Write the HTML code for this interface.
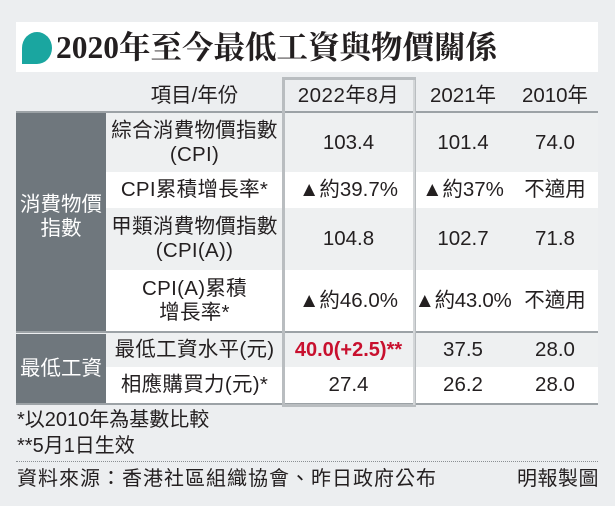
<!DOCTYPE html>
<html><head><meta charset="utf-8"><style>
body{margin:0;width:615px;height:506px;background:#eceef0;position:relative;overflow:hidden;font-family:"Liberation Sans","Noto Sans CJK TC",sans-serif;color:#231f20}
div{position:absolute;box-sizing:border-box}
.c{display:flex;align-items:center;justify-content:center;text-align:center;line-height:1.15;white-space:nowrap}
.r{font-size:20.5px}
.lab{font-size:20.5px;letter-spacing:0.3px}
.g{background:#eef0f1}.w{background:#fff}
.side{background:#6f777d;color:#fff;font-size:20.5px}
</style></head><body>
<div style="left:16px;top:22px;width:582px;height:50px;background:#fff"></div>
<div style="left:22px;top:32px;width:30px;height:32px;background:#1aa6a0;border-radius:50% 50% 50% 0"></div>
<div style="left:56px;top:27px;font-family:'Liberation Serif','Noto Serif CJK SC',serif;font-weight:bold;font-size:31.5px;line-height:42px">2020年至今最低工資與物價關係</div>

<div class="c r" style="left:106px;top:80px;width:177px;height:31px">項目/年份</div>
<div class="c r" style="left:283px;top:80px;width:131px;height:31px;letter-spacing:0.5px">2022年8月</div>
<div class="c r" style="left:414px;top:80px;width:98px;height:31px">2021年</div>
<div class="c r" style="left:510px;top:80px;width:90px;height:31px">2010年</div>
<div style="left:16px;top:111px;width:582px;height:2px;background:#9ca2a6"></div>

<div class="g" style="left:106px;top:113px;width:492px;height:59px"></div>
<div class="w" style="left:106px;top:172px;width:492px;height:36px"></div>
<div class="g" style="left:106px;top:208px;width:492px;height:62px"></div>
<div class="w" style="left:106px;top:270px;width:492px;height:61px"></div>
<div style="left:16px;top:331px;width:582px;height:2px;background:#9ca2a6"></div>
<div class="g" style="left:106px;top:333px;width:492px;height:34px"></div>
<div class="w" style="left:106px;top:367px;width:492px;height:36px"></div>
<div style="left:16px;top:403px;width:582px;height:2px;background:#9ca2a6"></div>

<div class="c side" style="left:16px;top:113px;width:90px;height:218px;padding-bottom:10px">消費物價<br>指數</div>
<div class="c side" style="left:16px;top:334px;width:90px;height:69px">最低工資</div>

<div style="left:282px;top:77px;width:134px;height:330px;border:3px solid #b9bdc0"></div>
<div style="left:413px;top:80px;width:2px;height:325px;background:#d3d6d8"></div>

<div class="c lab" style="left:104px;top:113px;width:181px;height:59px">綜合消費物價指數<br>(CPI)</div>
<div class="c r" style="left:283px;top:113px;width:131px;height:59px">103.4</div>
<div class="c r" style="left:414px;top:113px;width:98px;height:59px">101.4</div>
<div class="c r" style="left:510px;top:113px;width:90px;height:59px">74.0</div>

<div class="c lab" style="left:104px;top:172px;width:181px;height:36px">CPI累積增長率*</div>
<div class="c r" style="left:283px;top:172px;width:131px;height:36px">▲約39.7%</div>
<div class="c r" style="left:414px;top:172px;width:98px;height:36px">▲約37%</div>
<div class="c r" style="left:510px;top:172px;width:90px;height:36px">不適用</div>

<div class="c lab" style="left:104px;top:208px;width:181px;height:62px">甲類消費物價指數<br>(CPI(A))</div>
<div class="c r" style="left:283px;top:208px;width:131px;height:62px">104.8</div>
<div class="c r" style="left:414px;top:208px;width:98px;height:62px">102.7</div>
<div class="c r" style="left:510px;top:208px;width:90px;height:62px">71.8</div>

<div class="c lab" style="left:104px;top:270px;width:181px;height:61px">CPI(A)累積<br>增長率*</div>
<div class="c r" style="left:283px;top:270px;width:131px;height:61px">▲約46.0%</div>
<div class="c r" style="left:406px;top:270px;width:114px;height:61px;letter-spacing:-0.3px">▲約43.0%</div>
<div class="c r" style="left:510px;top:270px;width:90px;height:61px">不適用</div>

<div class="c lab" style="left:104px;top:333px;width:181px;height:34px">最低工資水平(元)</div>
<div class="c r" style="left:283px;top:333px;width:131px;height:34px;color:#c8102e;font-weight:bold;font-size:20px">40.0(+2.5)**</div>
<div class="c r" style="left:414px;top:333px;width:98px;height:34px">37.5</div>
<div class="c r" style="left:510px;top:333px;width:90px;height:34px">28.0</div>

<div class="c lab" style="left:104px;top:367px;width:181px;height:36px">相應購買力(元)*</div>
<div class="c r" style="left:283px;top:367px;width:131px;height:36px">27.4</div>
<div class="c r" style="left:414px;top:367px;width:98px;height:36px">26.2</div>
<div class="c r" style="left:510px;top:367px;width:90px;height:36px">28.0</div>

<div style="left:17px;top:407px;font-size:20px;line-height:26px;white-space:nowrap">*以2010年為基數比較</div>
<div style="left:17px;top:433px;font-size:20px;line-height:26px;white-space:nowrap">**5月1日生效</div>
<div style="left:16px;top:461px;width:582px;border-top:1px dotted #8a8f93"></div>
<div style="left:17px;top:465px;font-size:20px;line-height:28px;letter-spacing:1px;white-space:nowrap">資料來源：香港社區組織協會、昨日政府公布</div>
<div style="right:16px;top:465px;font-size:20px;line-height:28px;letter-spacing:0.5px;white-space:nowrap">明報製圖</div>
</body></html>
